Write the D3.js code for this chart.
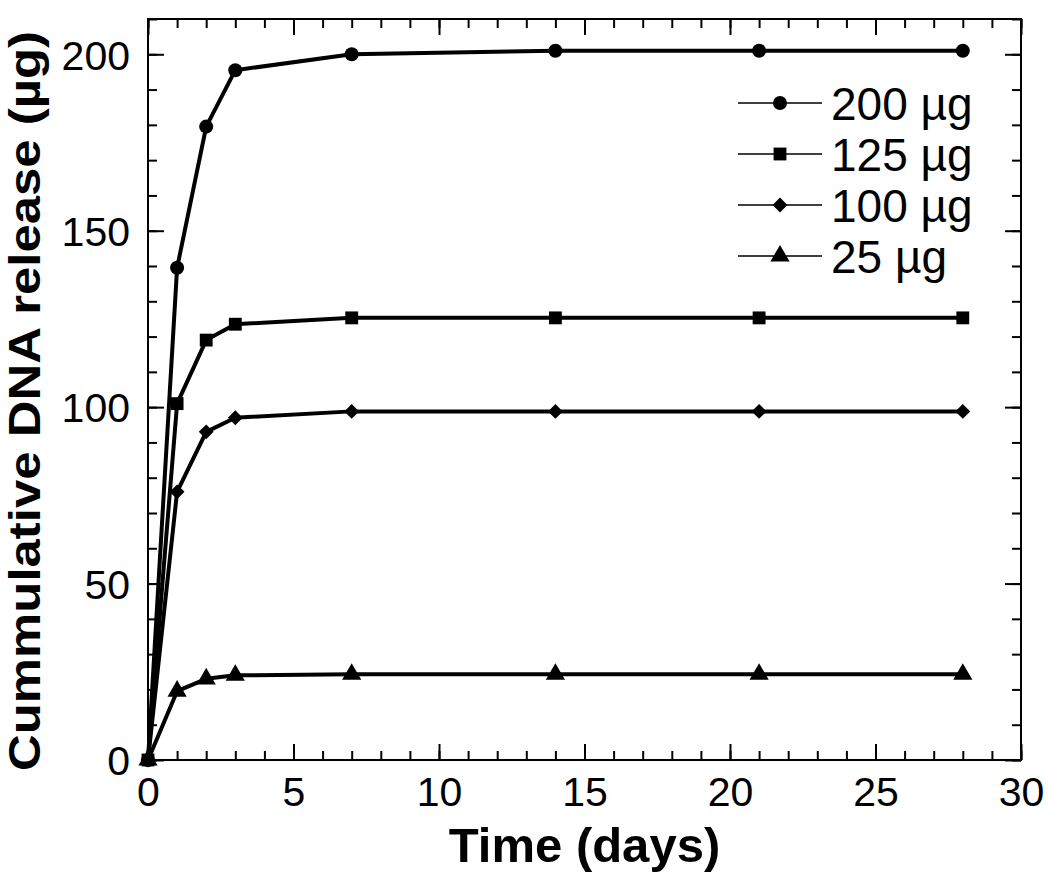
<!DOCTYPE html>
<html>
<head>
<meta charset="utf-8">
<script src="https://cdn.jsdelivr.net/npm/d3@7"></script>
<style>
body { margin: 0; background: #fff; }
svg { display: block; font-family: "Liberation Sans", Arial, sans-serif; }
</style>
</head>
<body>
<svg id="chart"></svg>
<script>
// data
var days = [0, 1, 2, 3, 7, 14, 21, 28];
var s200 = [0, 139.5, 179.5, 195.5, 200, 201, 201, 201];
var s125 = [0, 101, 119, 123.5, 125.3, 125.3, 125.3, 125.3];
var s100 = [0, 76, 93, 97, 98.8, 98.8, 98.8, 98.8];
var s25 = [0, 19.5, 23, 24, 24.3, 24.3, 24.3, 24.3];
var seriesNames = ['200 µg', '125 µg', '100 µg', '25 µg'];
var seriesVals = [s200, s125, s100, s25];
var xTicks = [0, 5, 10, 15, 20, 25, 30];
var yTicks = [0, 50, 100, 150, 200];

// square diamond (d3's own diamond is too narrow)
var squareDiamond = {
  draw: function(ctx, size) {
    var r = Math.sqrt(size / 2);
    ctx.moveTo(0, -r); ctx.lineTo(r, 0); ctx.lineTo(0, r); ctx.lineTo(-r, 0); ctx.closePath();
  }
};
var symbols = [d3.symbolCircle, d3.symbolSquare, squareDiamond, d3.symbolTriangle];
var symSizes = [155, 165, 110, 160];

var W = 1050, H = 875;
var L = 148, T = 19, R = 1021, B = 760;

var svg = d3.select('#chart').attr('width', W).attr('height', H);

var x = d3.scaleLinear().domain([0, 30]).range([L, R]);
var y = d3.scaleLinear().domain([0, 210]).range([B, T]);

// minor + major ticks, drawn inward on all four sides
var xMinor = d3.range(0, 31, 1);
var yMinor = d3.range(0, 211, 10);

function tickGroup(axis, tr) {
  var g = svg.append('g').attr('transform', tr).call(axis);
  g.select('.domain').remove();
  g.selectAll('line').attr('stroke', '#000').attr('stroke-width', 2);
  return g;
}

tickGroup(d3.axisBottom(x).tickValues(xMinor).tickSize(-9).tickFormat(''), 'translate(0,' + B + ')');
tickGroup(d3.axisTop(x).tickValues(xMinor).tickSize(-9).tickFormat(''), 'translate(0,' + T + ')');
tickGroup(d3.axisLeft(y).tickValues(yMinor).tickSize(-9).tickFormat(''), 'translate(' + L + ',0)');
tickGroup(d3.axisRight(y).tickValues(yMinor).tickSize(-9).tickFormat(''), 'translate(' + R + ',0)');

tickGroup(d3.axisTop(x).tickValues(xTicks).tickSize(-16).tickFormat(''), 'translate(0,' + T + ')');
tickGroup(d3.axisRight(y).tickValues(yTicks).tickSize(-16).tickFormat(''), 'translate(' + R + ',0)');

var gx = tickGroup(d3.axisBottom(x).tickValues(xTicks).tickSize(-16).tickPadding(17), 'translate(0,' + B + ')');
gx.selectAll('text').attr('font-size', 41).attr('fill', '#000')
  .attr('font-family', '"Liberation Sans", Arial, sans-serif').attr('dy', '0.71em');

var gy = tickGroup(d3.axisLeft(y).tickValues(yTicks).tickSize(-16).tickPadding(18), 'translate(' + L + ',0)');
gy.selectAll('text').attr('font-size', 41).attr('fill', '#000')
  .attr('font-family', '"Liberation Sans", Arial, sans-serif').attr('dy', '0.36em');

// frame
svg.append('rect').attr('x', L).attr('y', T).attr('width', R - L).attr('height', B - T)
  .attr('fill', 'none').attr('stroke', '#000').attr('stroke-width', 2);

// series
var line = d3.line().x(function(d) { return x(d[0]); }).y(function(d) { return y(d[1]); });

seriesVals.forEach(function(vals, i) {
  var pts = days.map(function(d, j) { return [d, vals[j]]; });
  svg.append('path').datum(pts).attr('d', line)
    .attr('fill', 'none').attr('stroke', '#000').attr('stroke-width', 4)
    .attr('stroke-linejoin', 'round');
  svg.selectAll('.m' + i).data(pts).enter().append('path')
    .attr('class', 'm' + i)
    .attr('d', d3.symbol().type(symbols[i]).size(symSizes[i]))
    .attr('transform', function(d) { return 'translate(' + x(d[0]) + ',' + y(d[1]) + ')'; })
    .attr('fill', '#000');
});

// legend
var leg = svg.append('g');
seriesNames.forEach(function(name, i) {
  var ly = 103 + i * 51;
  leg.append('line').attr('x1', 738).attr('x2', 822).attr('y1', ly).attr('y2', ly)
    .attr('stroke', '#000').attr('stroke-width', 1.5);
  leg.append('path').attr('d', d3.symbol().type(symbols[i]).size(symSizes[i]))
    .attr('transform', 'translate(780,' + ly + ')').attr('fill', '#000');
  leg.append('text').attr('x', 831).attr('y', ly).attr('dy', '0.36em')
    .attr('font-size', 46).text(name);
});

// axis titles
svg.append('text').attr('x', (L + R) / 2).attr('y', 862).attr('text-anchor', 'middle')
  .attr('font-size', 49).attr('font-weight', 'bold').text('Time (days)');
svg.append('text').attr('transform', 'translate(40,' + 401 + ') rotate(-90)')
  .attr('text-anchor', 'middle').attr('font-size', 44).attr('font-weight', 'bold')
  .attr('textLength', 740).attr('lengthAdjust', 'spacingAndGlyphs')
  .text('Cummulative DNA release (µg)');
</script>
</body>
</html>
